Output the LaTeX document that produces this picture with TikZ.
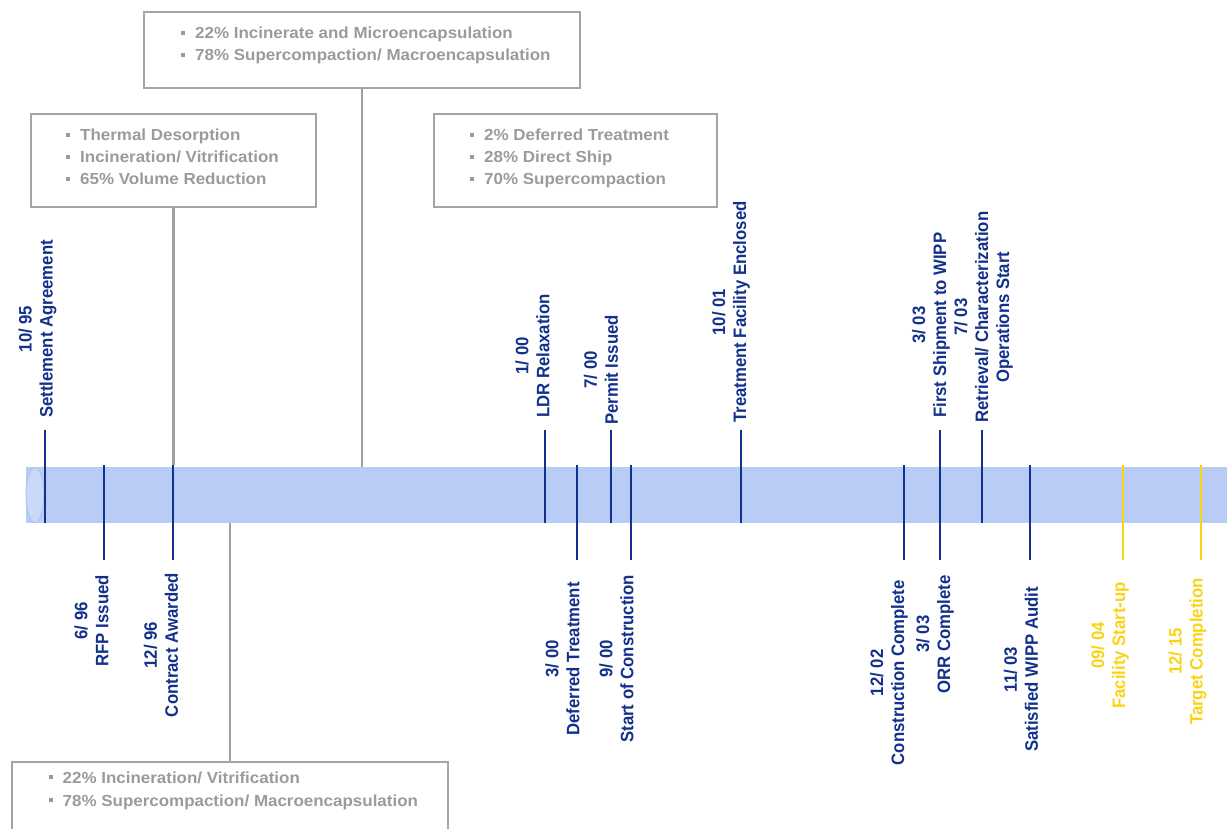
\documentclass[tikz,border=0pt]{standalone}
\usepackage{fontspec}
\setmainfont{Liberation Sans}
\newfontfamily\lblfont{Liberation Sans}[FakeStretch=0.93]
\newfontfamily\boxfont{Liberation Sans}[FakeStretch=1.06]
\definecolor{tlblue}{RGB}{18,48,140}
\definecolor{tlyellow}{RGB}{250,212,20}
\definecolor{bandfill}{RGB}{185,204,246}
\definecolor{capfill}{RGB}{202,216,250}
\definecolor{capline}{RGB}{172,194,242}
\definecolor{boxgray}{RGB}{165,165,165}
\definecolor{linegray}{RGB}{160,160,160}
\definecolor{txtgray}{RGB}{155,155,155}
\newcommand{\gbul}{\rule[3.8pt]{4pt}{4pt}\hspace{10pt}}
\begin{document}
\begin{tikzpicture}[x=1pt,y=-1pt,
  lbl/.style={rotate=90, align=center, inner sep=0pt, text=tlblue,
    font={\lblfont\bfseries\fontsize{18}{21}\selectfont}},
  ylbl/.style={lbl, text=tlyellow},
  tick/.style={draw=tlblue, line width=2.5pt},
  ytick/.style={draw=tlyellow, line width=2.5pt},
  gbox/.style={draw=boxgray, line width=1.6pt, inner sep=0pt, fill=white},
  gline/.style={draw=linegray, line width=2.5pt},
  gtxt/.style={anchor=base west, inner sep=0pt, text=txtgray,
    font={\boxfont\bfseries\fontsize{16}{22}\selectfont}},
]
\useasboundingbox (0,0) rectangle (1227,829);
\clip (0,0) rectangle (1227,829);

% band
\fill[bandfill] (26,467) rectangle (1240,523);
\filldraw[fill=capfill, draw=capline, line width=1pt] (35,495) ellipse [x radius=9, y radius=27.5];
\coordinate (bandtop) at (0,465);
\coordinate (bandtop2) at (0,467);
\coordinate (bandbot) at (0,523);

% boxes
\node[gbox, minimum width=436, minimum height=76] (btop) at (362,50) {};
\node[gbox, minimum width=285, minimum height=93] (bleft) at (173.5,160.5) {};
\node[gbox, minimum width=283, minimum height=93] (bmid) at (575.5,160.5) {};
\node[gbox, minimum width=436, minimum height=100] (bbot) at (230,812) {};

% box texts
\node[gtxt] (t1a) at (181,39) {\gbul 22\% Incinerate and Microencapsulation};
\node[gtxt] (t1b) at (181,61) {\gbul 78\% Supercompaction/ Macroencapsulation};
\node[gtxt] (t2a) at (66,141) {\gbul Thermal Desorption};
\node[gtxt] (t2b) at (66,163) {\gbul Incineration/ Vitrification};
\node[gtxt] (t2c) at (66,185) {\gbul 65\% Volume Reduction};
\node[gtxt] (t3a) at (470,141) {\gbul 2\% Deferred Treatment};
\node[gtxt] (t3b) at (470,163) {\gbul 28\% Direct Ship};
\node[gtxt] (t3c) at (470,185) {\gbul 70\% Supercompaction};
\node[gtxt] (t4a) at (48.5,783) {\gbul 22\% Incineration/ Vitrification};
\node[gtxt] (t4b) at (48.5,806) {\gbul 78\% Supercompaction/ Macroencapsulation};

% gray connectors
\draw[gline] (bleft.south) -- (bleft.south |- bandtop);
\draw[gline] (btop.south) -- (btop.south |- bandtop2);
\draw[gline] (bbot.north) -- (bbot.north |- bandbot);

% ticks above
\foreach \x in {45,545,611,741,982} \draw[tick] (\x,430) -- (\x,523);
\draw[tick] (940,430) -- (940,560);
% ticks below
\foreach \x in {104,173,577,631,904,1030} \draw[tick] (\x,465) -- (\x,560);
\foreach \x in {1123,1201} \draw[ytick] (\x,465) -- (\x,560);

% labels above
\node[lbl, anchor=west] (l1) at (37.5,418) {10/ 95\\Settlement Agreement};
\node[lbl, anchor=west] (l4) at (532.5,418) {1/ 00\\LDR Relaxation};
\node[lbl, anchor=west] (l6) at (601,425) {7/ 00\\Permit Issued};
\node[lbl, anchor=west] (l8) at (731,423) {10/ 01\\Treatment Facility Enclosed};
\node[lbl, anchor=west] (l10) at (931,418) {3/ 03\\First Shipment to WIPP};
\node[lbl, anchor=west] (l12) at (983.5,423) {7/ 03\\Retrieval/ Characterization\\Operations Start};

% labels below
\node[lbl, anchor=east] (l2) at (91.5,575) {6/ 96\\RFP Issued};
\node[lbl, anchor=east] (l3) at (161,573) {12/ 96\\Contract Awarded};
\node[lbl, anchor=east] (l5) at (562.5,582) {3/ 00\\Deferred Treatment};
\node[lbl, anchor=east] (l7) at (616.5,575) {9/ 00\\Start of Construction};
\node[lbl, anchor=east] (l9) at (889,580) {12/ 02\\Construction Complete};
\node[lbl, anchor=east] (l11) at (935,575) {3/ 03\\ORR Complete};
\node[lbl, anchor=east] (l13) at (1021,587) {11/ 03\\Satisfied WIPP Audit};
\node[ylbl, anchor=east] (l14) at (1110,582) {09/ 04\\Facility Start-up};
\node[ylbl, anchor=east] (l15) at (1187.5,578) {12/ 15\\Target Completion};
\end{tikzpicture}
\end{document}
